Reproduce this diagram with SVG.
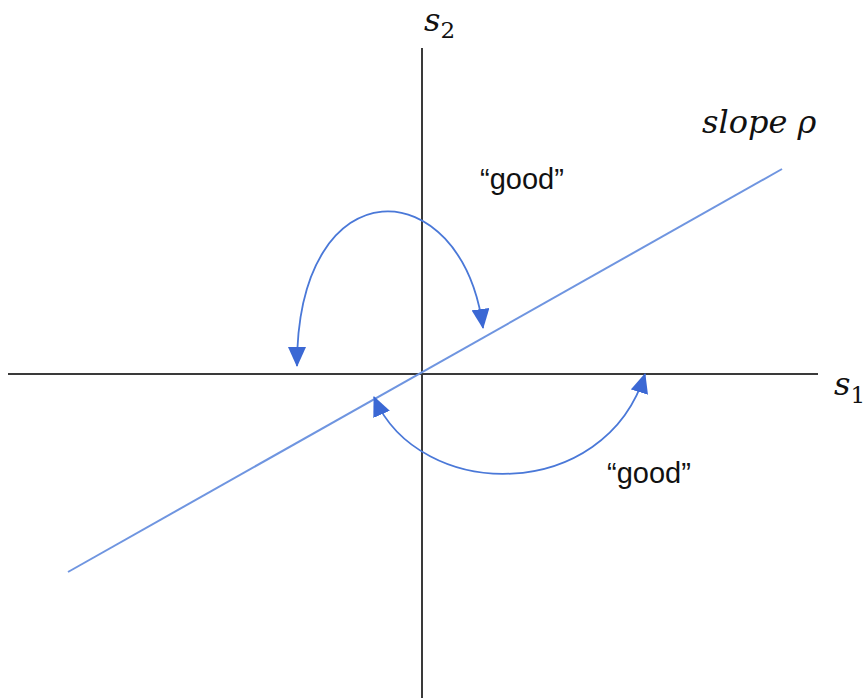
<svg xmlns="http://www.w3.org/2000/svg" width="866" height="698" viewBox="0 0 866 698">
<style>
.axis{stroke:#3a3a3a;stroke-width:2;fill:none}
.slope{stroke:#6f95e0;stroke-width:2;fill:none}
.arc{stroke:#4a78d8;stroke-width:1.8;fill:none;marker-start:url(#big);marker-end:url(#big)}
.math{font-family:"DejaVu Serif",serif;font-style:italic;fill:#111}
.lbl{font-family:"Liberation Sans",Arial,sans-serif;font-size:29px;fill:#111}
</style>
<defs>
<marker id="big" viewBox="0 0 20 18" refX="19" refY="9" markerWidth="20" markerHeight="18" markerUnits="userSpaceOnUse" orient="auto-start-reverse">
<path d="M0,0 L20,9 L0,18 Z" fill="#3b68d4"/>
</marker>
</defs>
<g id="axes">
<line class="axis" x1="8" y1="374" x2="818" y2="374"/>
<line class="axis" x1="422" y1="48" x2="422" y2="698"/>
</g>
<g id="slope-line">
<line class="slope" x1="68" y1="572" x2="782" y2="169"/>
</g>
<g id="connectors">
<path class="arc" d="M297,366 C297,163 462,170 483,328"/>
<path class="arc" d="M374,397 C420,503 605,503 645,374"/>
</g>
<g id="label-s2"><text class="math" x="424" y="31" font-size="32">s<tspan font-size="23" dy="7" font-style="normal">2</tspan></text></g>
<g id="label-s1"><text class="math" x="834" y="395" font-size="32">s<tspan font-size="23" dy="8" font-style="normal">1</tspan></text></g>
<g id="label-slope"><text class="math" x="702" y="133" font-size="32">slope ρ</text></g>
<g id="label-good1"><text class="lbl" x="480" y="189">“good”</text></g>
<g id="label-good2"><text class="lbl" x="607" y="483">“good”</text></g>
</svg>
